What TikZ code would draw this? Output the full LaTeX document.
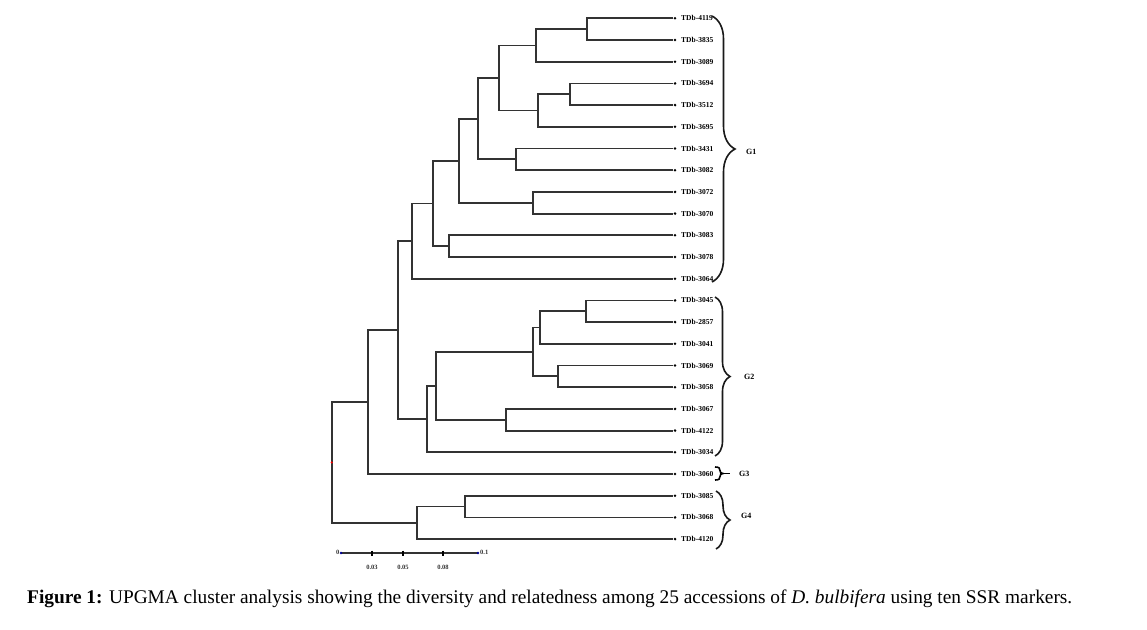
\documentclass[tikz,border=0pt]{standalone}
\usepackage{fontspec}
\usepackage{graphicx}
\setmainfont{Liberation Serif}
\usetikzlibrary{decorations.pathreplacing}
\newsavebox\capbox
\begin{document}
\sbox\capbox{\fontsize{17}{20}\selectfont\textbf{Figure 1:} UPGMA cluster analysis showing the diversity and relatedness among 25 accessions of \textit{D. bulbifera} using ten SSR markers.}%
\begin{tikzpicture}[x=1pt,y=-1pt,
  branch/.style={line width=1.8pt, draw=black!80},
  leafdot/.style={circle, fill=black, inner sep=0pt, minimum size=2.8pt},
  lab/.style={anchor=west, inner sep=0pt, font=\fontsize{7.5}{8}\selectfont\bfseries},
  glab/.style={anchor=west, inner sep=0pt, font=\fontsize{8}{9}\selectfont\bfseries},
  slab/.style={inner sep=0pt, font=\fontsize{6.5}{7}\selectfont\bfseries, text=black!80},
  bracket/.style={line width=1.6pt, draw=black!90, decorate},
]
\useasboundingbox (0,0) rectangle (1147,629);
\fill[white] (0,0) rectangle (1147,629);
% leaves
\foreach \i/\t in {1/4119,2/3835,3/3089,4/3694,5/3512,6/3695,7/3431,8/3082,9/3072,10/3070,11/3083,12/3078,13/3064,14/3045,15/2857,16/3041,17/3069,18/3058,19/3067,20/4122,21/3034,22/3060,23/3085,24/3068,25/4120}{
  \pgfmathsetmacro\yy{18.3+21.7*(\i-1)}
  \node[leafdot] (l\i) at (675,\yy) {};
}
\begin{scope}
\clip (678,0) rectangle (713.5,629);
\foreach \i/\t in {1/4119,2/3835,3/3089,4/3694,5/3512,6/3695,7/3431,8/3082,9/3072,10/3070,11/3083,12/3078,13/3064,14/3045,15/2857,16/3041,17/3069,18/3058,19/3067,20/4122,21/3034,22/3060,23/3085,24/3068,25/4120}{
  \pgfmathsetmacro\yy{18.3+21.7*(\i-1)}
  \node[lab] (t\i) at (681,\yy) {TDb-\t};
}
\end{scope}
% internal nodes
\coordinate (na) at (586.7,29.15);
\coordinate (nb) at (536,45.43);
\coordinate (nc) at (570,94.25);
\coordinate (nd) at (537.7,110.53);
\coordinate (ne) at (499.3,77.98);
\coordinate (nf) at (515.7,159.35);
\coordinate (ng) at (478.3,118.66);
\coordinate (nh) at (532.7,202.75);
\coordinate (ni) at (459.3,160.71);
\coordinate (nj) at (449.3,246.15);
\coordinate (nk) at (433.3,203.43);
\coordinate (ngone) at (412.3,241.06);
\coordinate (nm) at (586,311.25);
\coordinate (nn) at (540,327.53);
\coordinate (no) at (557.7,376.35);
\coordinate (np) at (533.3,351.94);
\coordinate (nq) at (505.7,419.75);
\coordinate (nr) at (436,385.85);
\coordinate (ns) at (426.7,419.07);
\coordinate (nt) at (398.3,330.07);
\coordinate (nu) at (367.7,402.03);
\coordinate (nv) at (465,506.55);
\coordinate (nw) at (416.7,522.83);
\coordinate (root) at (331.7,462.43);
\draw[branch]
  (na) |- (l1)  (na) |- (l2)
  (nb) |- (na)  (nb) |- (l3)
  (nc) |- (l4)  (nc) |- (l5)
  (nd) |- (nc)  (nd) |- (l6)
  (ne) |- (nb)  (ne) |- (nd)
  (nf) |- (l7)  (nf) |- (l8)
  (ng) |- (ne)  (ng) |- (nf)
  (nh) |- (l9)  (nh) |- (l10)
  (ni) |- (ng)  (ni) |- (nh)
  (nj) |- (l11) (nj) |- (l12)
  (nk) |- (ni)  (nk) |- (nj)
  (ngone) |- (nk) (ngone) |- (l13)
  (nm) |- (l14) (nm) |- (l15)
  (nn) |- (nm)  (nn) |- (l16)
  (no) |- (l17) (no) |- (l18)
  (np) |- (nn)  (np) |- (no)
  (nq) |- (l19) (nq) |- (l20)
  (nr) |- (np)  (nr) |- (nq)
  (ns) |- (nr)  (ns) |- (l21)
  (nt) |- (ngone) (nt) |- (ns)
  (nu) |- (nt)  (nu) |- (l22)
  (nv) |- (l23) (nv) |- (l24)
  (nw) |- (nv)  (nw) |- (l25)
  (root) |- (nu) (root) |- (nw);
\fill[red] (root) circle (1.2);
% braces
\coordinate (g1a) at (712,16);
\coordinate (g1b) at (712,282);
\draw[bracket, decoration={brace, amplitude=23pt}] (g1a) -- (g1b);
\node[glab] (G1) at (746,152) {G1};
\coordinate (g2a) at (715,297);
\coordinate (g2b) at (715,456);
\draw[bracket, decoration={brace, amplitude=15pt}] (g2a) -- (g2b);
\node[glab] (G2) at (744,377) {G2};
\coordinate (g3a) at (715,467);
\coordinate (g3b) at (715,480);
\coordinate (g3tip) at (723,473.5);
\coordinate (g3end) at (730,473.5);
\draw[line width=1.6pt] (g3a) .. controls (719,467) and (720,468) .. (720,470.5)
  .. controls (720,472.5) and (721,473.5) .. (g3tip)
  .. controls (721,473.5) and (720,474.5) .. (720,476.5)
  .. controls (720,479) and (719,480) .. (g3b);
\draw[line width=1.6pt] (g3tip) -- (g3end);
\node[glab] (G3) at (739,473.5) {G3};
\coordinate (g4a) at (716,491);
\coordinate (g4b) at (716,549);
\draw[bracket, decoration={brace, amplitude=14pt}] (g4a) -- (g4b);
\node[glab] (G4) at (741,516) {G4};
% scale bar
\coordinate (s0) at (341,553);
\coordinate (s1) at (478,553);
\draw[branch] (s0) -- (s1);
\foreach \x in {372,403,443}{\draw[line width=1.5pt] (\x,550.5) -- (\x,555.5);}
\fill[blue!60!black] (s0) circle (1.3) (s1) circle (1.3);
\node[slab, anchor=east] (z0) at (339.5,552) {0};
\node[slab, anchor=west] (z1) at (480,552) {0.1};
\node[slab] (z2) at (372,567) {0.03};
\node[slab] (z3) at (403,567) {0.05};
\node[slab] (z4) at (443,567) {0.08};
% caption
\node[anchor=base west, inner sep=0pt] (cap) at (27,603) {\resizebox{1045pt}{!}{\usebox\capbox}};
\end{tikzpicture}
\end{document}
